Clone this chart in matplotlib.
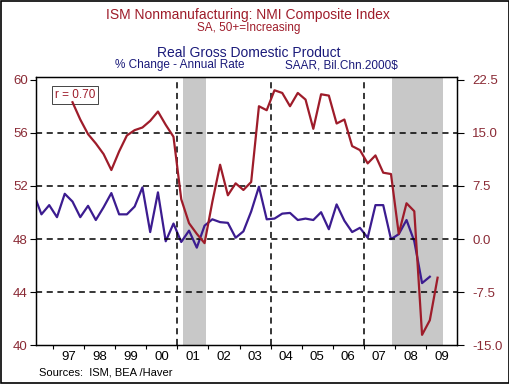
import numpy as np
import pandas as pd
import matplotlib
matplotlib.use("Agg")
import matplotlib.pyplot as plt
from matplotlib.patches import Rectangle

plt.rcParams['font.family'] = ['Liberation Sans', 'DejaVu Sans']

# quarterly series
gdp_quarters = pd.period_range('1996Q2', '2009Q1', freq='Q')
gdp_pct = [6.4, 3.5, 4.8, 3.1, 6.4, 5.3, 3.1, 4.7, 2.7, 4.5, 6.5, 3.5, 3.5, 4.6,
           7.3, 1.0, 6.6, -0.3, 2.2, -0.4, 1.2, -1.2, 1.9, 2.8, 2.4, 2.3, 0.2,
           1.1, 3.9, 7.4, 2.8, 2.9, 3.6, 3.7, 2.7, 2.9, 2.7, 3.8, 1.4, 4.9, 2.6,
           1.0, 1.6, 0.2, 4.8, 4.8, 0.0, 0.7, 2.7, -0.3, -6.2, -5.3]

ism_quarters = pd.period_range('1997Q3', '2009Q2', freq='Q')
ism_nmi = [58.3, 57.0, 55.9, 55.2, 54.4, 53.2, 54.6, 55.8, 56.2, 56.4, 56.9, 57.6,
           56.6, 55.7, 51.0, 49.2, 48.4, 47.7, 50.8, 53.6, 51.3, 52.2, 51.7, 52.3,
           58.0, 57.7, 59.2, 59.0, 58.0, 59.0, 58.5, 56.3, 58.9, 58.8, 56.7, 57.0,
           55.0, 54.7, 53.7, 54.3, 53.0, 52.9, 48.4, 50.7, 50.1, 40.8, 41.9, 45.1]

recessions = [(2001.17, 2001.92), (2007.92, 2009.55)]
year_labels = ['97', '98', '99', '00', '01', '02', '03', '04', '05', '06', '07', '08', '09']
years = np.arange(1997, 2010)

def to_year(periods):
    return np.array([p.year + (p.quarter - 1) / 4 + 0.125 for p in periods])

red = '#9e1c2a'
blue = '#3c1c90'
lab = '#8a2a35'

fig = plt.figure(figsize=(5.10, 3.84), dpi=100)
ax = fig.add_axes([0.0706, 0.1003, 0.8255, 0.6992])
ax2 = ax.twinx()
ax.set_zorder(ax2.get_zorder() + 1)
ax.patch.set_visible(False)

for a, b in recessions:
    ax2.axvspan(a, b, color='#c8c8c8', lw=0, zorder=0)

ax2.plot(to_year(gdp_quarters), gdp_pct, color=blue, lw=1.6, zorder=3)
ax.plot(to_year(ism_quarters), ism_nmi, color=red, lw=1.6, zorder=4)

ax.set_xlim(1996.45, 2010.0)
ax.set_ylim(40, 60.2)
ax2.set_ylim(-15, (60.2 - 48) * 1.875)

for v in [44, 48, 52, 56]:
    ax.axhline(v, color='black', ls=(0, (4, 3)), lw=1.1, zorder=2)
for x in [2001, 2004, 2007]:
    ax.axvline(x, color='black', ls=(0, (4, 3)), lw=1.1, zorder=2)

ax.set_yticks([40, 44, 48, 52, 56, 60])
ax.set_yticklabels(['40', '44', '48', '52', '56', '60'], color=lab, fontsize=9.5)
ax2.set_yticks([-15, -7.5, 0, 7.5, 15, 22.5])
ax2.set_yticklabels(['-15.0', '-7.5', '0.0', '7.5', '15.0', '22.5'], color=lab, fontsize=9.5)
ax.tick_params(axis='y', length=4, width=0.8, pad=2)
ax2.tick_params(axis='y', length=5, width=0.8, pad=6)

ax.set_xticks(years)
ax.set_xticklabels([])
ax.set_xticks(years + 0.5, minor=True)
ax.set_xticklabels(year_labels, minor=True, fontsize=9.5)
ax.tick_params(axis='x', which='major', length=3, width=0.8, direction='out')
ax.tick_params(axis='x', which='minor', length=0, pad=4)

for sp in ax.spines.values():
    sp.set_linewidth(0.9)
for sp in ax2.spines.values():
    sp.set_linewidth(0.9)

ax.text(0.045, 0.955, 'r = 0.70', transform=ax.transAxes, color=red, fontsize=8.5,
        va='top', ha='left',
        bbox=dict(boxstyle='square,pad=0.25', fc='white', ec='#444444', lw=0.7))

fig.text(0.487, 0.961, 'ISM Nonmanufacturing: NMI Composite Index', color=red,
         fontsize=10, ha='center', va='center')
fig.text(0.487, 0.927, 'SA, 50+=Increasing', color=red, fontsize=8.5,
         ha='center', va='center')
fig.text(0.487, 0.863, 'Real Gross Domestic Product', color='#1a1a7a',
         fontsize=10, ha='center', va='center')
fig.text(0.352, 0.830, '% Change - Annual Rate', color='#1a1a7a', fontsize=8.5,
         ha='center', va='center')
fig.text(0.670, 0.830, 'SAAR, Bil.Chn.2000$', color='#1a1a7a', fontsize=8.5,
         ha='center', va='center')
fig.text(0.076, 0.031, 'Sources:  ISM, BEA /Haver', color='black', fontsize=8,
         ha='left', va='center')

fig.patches.append(Rectangle((0.002, 0.003), 0.996, 0.994, transform=fig.transFigure,
                             fill=False, edgecolor='black', lw=1.2))

fig.savefig('out.png', dpi=100)
